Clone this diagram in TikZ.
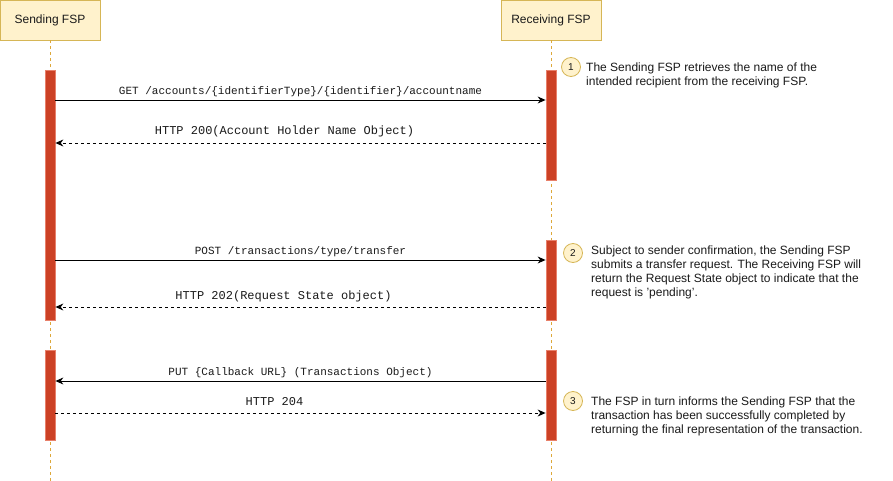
\documentclass[tikz,border=0pt]{standalone}
\usepackage{fontspec}
\setmainfont{Liberation Sans}
\setmonofont{Liberation Mono}
\usetikzlibrary{arrows.meta}
\definecolor{boxfill}{HTML}{FFF2CC}
\definecolor{boxline}{HTML}{D6B656}
\definecolor{lifeline}{HTML}{DDA83A}
\definecolor{actfill}{HTML}{CC4125}
\definecolor{actline}{HTML}{E8806A}
\definecolor{txt}{HTML}{1A1A1A}
\tikzset{
  actor/.style={draw=boxline, fill=boxfill, line width=0.8pt, minimum width=100pt, minimum height=40pt, inner sep=0pt, font=\fontsize{12}{14}\selectfont, text=txt},
  life/.style={draw=lifeline, line width=0.8pt, dash pattern=on 3pt off 3pt},
  act/.style={draw=actline, fill=actfill, line width=0.8pt, minimum width=10pt, inner sep=0pt},
  msg/.style={draw=black, line width=0.9pt, -{Stealth[length=8pt,width=7pt]}},
  ret/.style={msg, dash pattern=on 3pt off 3pt},
  lbl/.style={font=\fontsize{11}{12}\selectfont\ttfamily, text=txt, inner sep=0pt, anchor=center},
  rlbl/.style={lbl, font=\fontsize{12}{13}\selectfont\ttfamily},
  num/.style={circle, draw=boxline, fill=boxfill, line width=0.8pt, minimum size=19pt, inner sep=0pt, font=\fontsize{10}{10}\selectfont, text=txt},
  note/.style={font=\fontsize{12}{14}\selectfont, text=txt, align=left, anchor=north west, inner sep=0pt},
}
\begin{document}
\begin{tikzpicture}[x=1pt,y=-1pt]
\useasboundingbox[fill=white] (0,0) rectangle (893,481);
% actors
\node[actor] (sfsp) at (50,20) {Sending FSP};
\node[actor] (rfsp) at (551,20) {Receiving FSP};
\coordinate (send) at (50,481);
\coordinate (rend) at (551,481);
\draw[life] (sfsp.south) -- (send);
\draw[life] (rfsp.south) -- (rend);
% activations
\node[act, minimum height=250pt] (sa1) at (50,195) {};
\node[act, minimum height=90pt] (sa2) at (50,395) {};
\node[act, minimum height=110pt] (ra1) at (551,125) {};
\node[act, minimum height=80pt] (ra2) at (551,280) {};
\node[act, minimum height=90pt] (ra3) at (551,395) {};
% messages
\draw[msg] (sa1.east |- 0,100) -- node[lbl, yshift=8pt] {GET /accounts/\{identifierType\}/\{identifier\}/accountname} (ra1.west |- 0,100);
\draw[ret] (ra1.west |- 0,143) -- node[rlbl, yshift=12pt, xshift=-16pt] {HTTP 200(Account Holder Name Object)} (sa1.east |- 0,143);
\draw[msg] (sa1.east |- 0,260) -- node[lbl, yshift=8pt] {POST /transactions/type/transfer} (ra2.west |- 0,260);
\draw[ret] (ra2.west |- 0,307) -- node[rlbl, yshift=11pt, xshift=-17pt] {HTTP 202(Request State object)} (sa1.east |- 0,307);
\draw[msg] (ra3.west |- 0,381) -- node[lbl, yshift=8pt] {PUT \{Callback URL\} (Transactions Object)} (sa2.east |- 0,381);
\draw[ret] (sa2.east |- 0,413) -- node[rlbl, yshift=11pt, xshift=-26pt] {HTTP 204} (ra3.west |- 0,413);
% numbered notes
\node[num] (n1) at (571,67) {1};
\node[num] (n2) at (573,253) {2};
\node[num] (n3) at (573,401) {3};
\node[note] (t1) at (586,63) {The Sending FSP retrieves the name of the\\intended recipient from the receiving FSP.};
\node[note] (t2) at (591,246) {Subject to sender confirmation, the Sending FSP\\submits a transfer request. The Receiving FSP will\\return the Request State object to indicate that the\\request is 'pending'.};
\node[note] (t3) at (591,397) {The FSP in turn informs the Sending FSP that the\\transaction has been successfully completed by\\returning the final representation of the transaction.};
\end{tikzpicture}
\end{document}
